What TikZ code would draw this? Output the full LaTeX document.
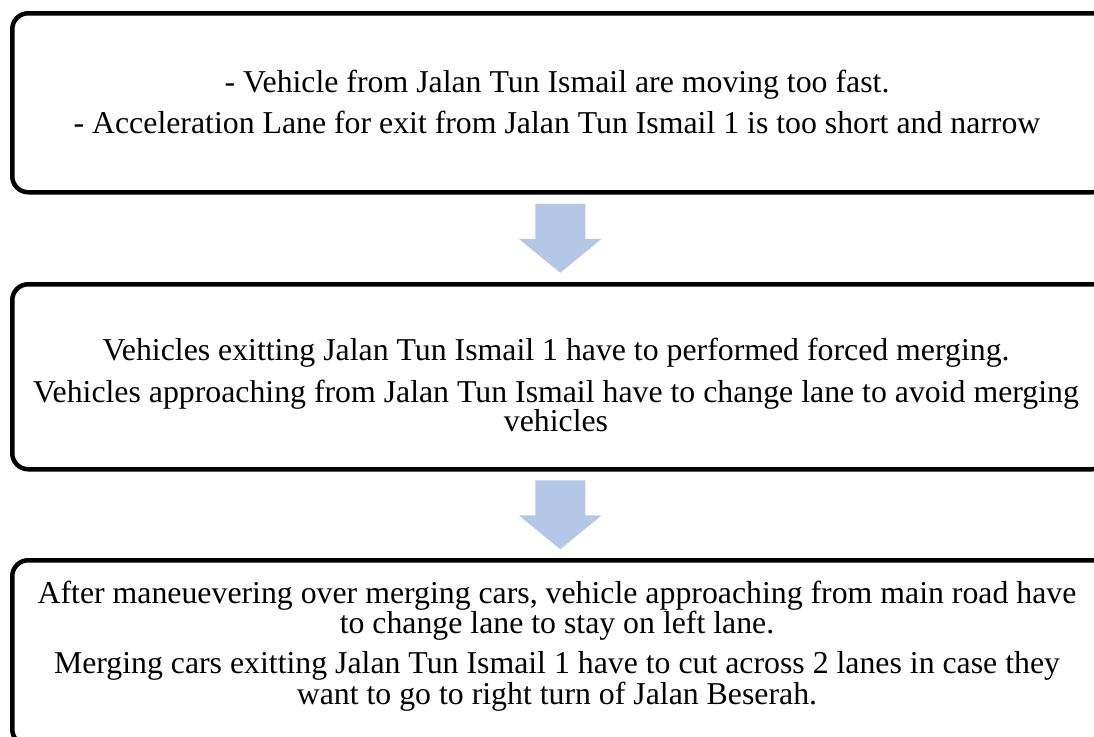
\documentclass[tikz,border=0pt]{standalone}
\usepackage{fontspec}
\setmainfont{Liberation Serif}
\definecolor{arrowblue}{RGB}{180,199,231}
\tikzset{
  x=1pt,y=1pt,
  box/.style={draw=black, line width=4.5pt, rounded corners=16pt, anchor=north west, inner sep=0pt},
  txt/.style={align=center, font=\fontsize{31.8}{29}\selectfont, inner sep=0pt},
  blockarrow/.style={fill=arrowblue, draw=none},
}
\newcommand{\blockarrowat}[1]{%
  \fill[blockarrow] ([shift={(-25,34.5)}]#1) -- ([shift={(25,34.5)}]#1) --
    ([shift={(25,-0.5)}]#1) -- ([shift={(41.5,-0.5)}]#1) -- ([shift={(0,-34.5)}]#1) --
    ([shift={(-41.5,-0.5)}]#1) -- ([shift={(-25,-0.5)}]#1) -- cycle;}
\begin{document}
\begin{tikzpicture}
\useasboundingbox (0,0) rectangle (1094,-736);
\clip (0,0) rectangle (1094,-736);
\node[box, minimum width=1096pt, minimum height=179pt] (b1) at (10,-11) {};
\node[box, minimum width=1096pt, minimum height=185pt] (b2) at (10,-282) {};
\node[box, minimum width=1096pt, minimum height=185pt] (b3) at (10,-558) {};
\node[txt] (t1) at (557,-102) {- Vehicle from Jalan Tun Ismail are moving too fast.\\[11pt]
- Acceleration Lane for exit from Jalan Tun Ismail 1 is too short and narrow};
\node[txt] (t2) at (556,-385) {Vehicles exitting Jalan Tun Ismail 1 have to performed forced merging.\\[11pt]
Vehicles approaching from Jalan Tun Ismail have to change lane to avoid merging\\
vehicles};
\node[txt] (t3) at (557,-646) {After maneuevering over merging cars, vehicle approaching from main road have\\
to change lane to stay on left lane.\\[11pt]
Merging cars exitting Jalan Tun Ismail 1 have to cut across 2 lanes in case they\\
want to go to right turn of Jalan Beserah.};
\path (b1.south) -- (b2.north) coordinate[pos=0.5] (m1);
\path (b2.south) -- (b3.north) coordinate[pos=0.5] (m2);
\blockarrowat{m1}
\blockarrowat{m2}
\end{tikzpicture}
\end{document}
